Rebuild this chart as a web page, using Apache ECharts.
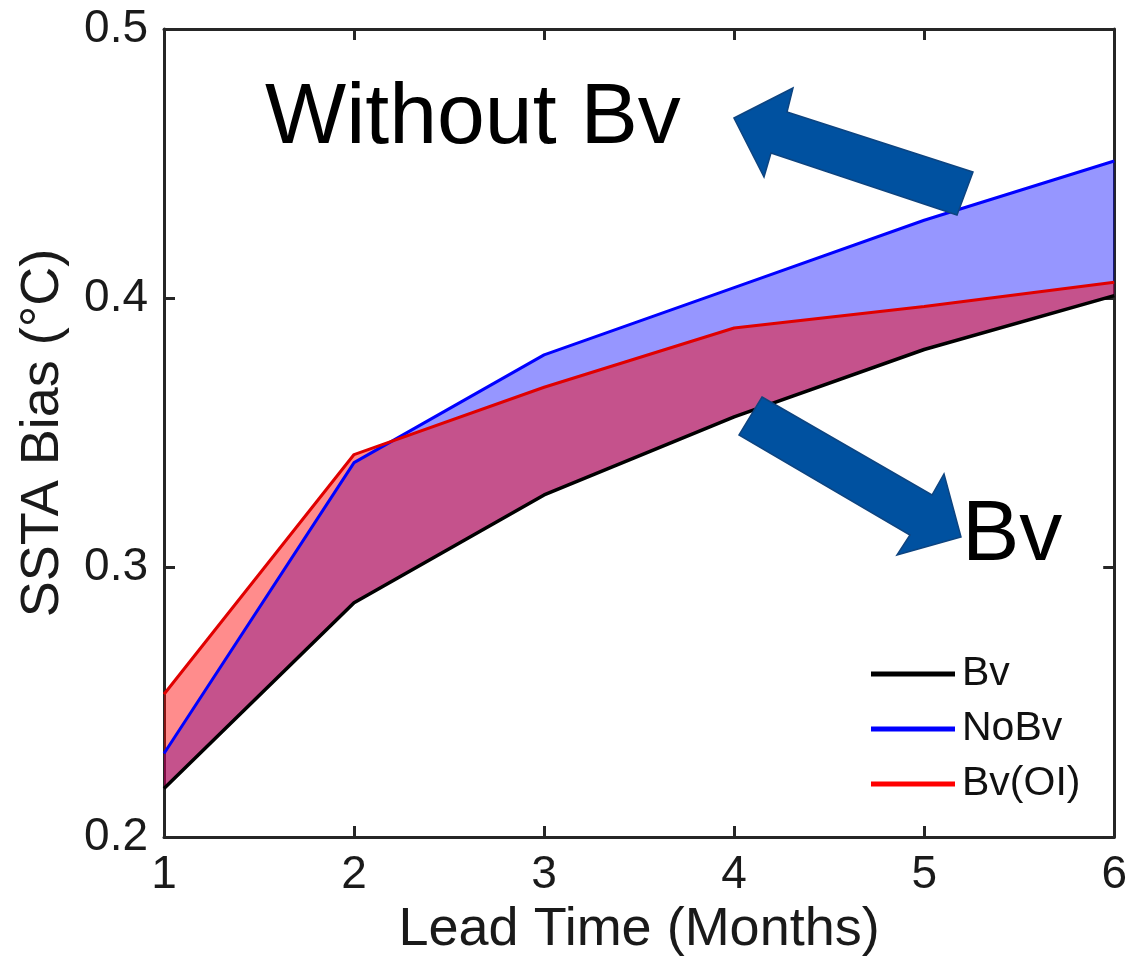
<!DOCTYPE html>
<html>
<head>
<meta charset="utf-8">
<script src="https://cdn.jsdelivr.net/npm/echarts@6/dist/echarts.min.js"></script>
<style>
html,body{margin:0;padding:0;background:#fff;}
#chart{width:1130px;height:974px;}
</style>
</head>
<body>
<div id="chart"></div>
<script>
// ---- data ----
var leadTime = [1, 2, 3, 4, 5, 6];
var bv   = [0.218, 0.287, 0.327, 0.356, 0.381, 0.401];
var noBv = [0.231, 0.339, 0.379, 0.404, 0.429, 0.451];
var bvOI = [0.253, 0.342, 0.367, 0.389, 0.397, 0.406];
var yTicks = [0.2, 0.3, 0.4, 0.5];
var xTicks = [1, 2, 3, 4, 5, 6];

var FONT = '"Liberation Sans", Arial, Helvetica, sans-serif';
var AX = '#262626';

function pairs(xs, ys) { return xs.map(function (x, i) { return [x, ys[i]]; }); }

// band polygon between an upper and a lower series, through the axis scales
function bandSeries(name, upper, lower, color) {
  return {
    name: name, type: 'custom', silent: true,
    data: [0],
    renderItem: function (params, api) {
      var pts = [];
      for (var i = 0; i < leadTime.length; i++) pts.push(api.coord([leadTime[i], upper[i]]));
      for (var j = leadTime.length - 1; j >= 0; j--) pts.push(api.coord([leadTime[j], lower[j]]));
      return { type: 'polygon', shape: { points: pts }, style: { fill: color, stroke: null } };
    }
  };
}

var chart = echarts.init(document.getElementById('chart'), null, { renderer: 'canvas' });

var axisCommon = {
  type: 'value',
  axisLine: { show: true, lineStyle: { color: AX, width: 3 } },
  axisTick: { show: true, inside: true, length: 11, lineStyle: { color: AX, width: 3 } },
  splitLine: { show: false }
};

var option = {
  backgroundColor: '#ffffff',
  animation: false,
  grid: { left: 164, top: 29, width: 953, height: 808, containLabel: false },
  xAxis: [
    Object.assign({}, axisCommon, {
      position: 'bottom', min: xTicks[0], max: xTicks[xTicks.length - 1], interval: 1,
      axisLabel: { show: true, color: '#1a1a1a', fontSize: 46, fontFamily: FONT, margin: 15 },
      name: 'Lead Time (Months)', nameLocation: 'middle', nameGap: 64,
      nameTextStyle: { color: '#1a1a1a', fontSize: 54, fontFamily: FONT }
    }),
    Object.assign({}, axisCommon, {
      position: 'top', min: xTicks[0], max: xTicks[xTicks.length - 1], interval: 1,
      axisLabel: { show: false }
    })
  ],
  yAxis: [
    Object.assign({}, axisCommon, {
      position: 'left', min: yTicks[0], max: yTicks[yTicks.length - 1], interval: 0.1,
      axisLabel: { show: true, color: '#1a1a1a', fontSize: 46, fontFamily: FONT, margin: 16,
        formatter: function (v) { return v.toFixed(1); } },
      name: 'SSTA Bias (°C)', nameLocation: 'middle', nameGap: 94, nameRotate: 90,
      nameTextStyle: { color: '#1a1a1a', fontSize: 54, fontFamily: FONT }
    }),
    Object.assign({}, axisCommon, {
      position: 'right', min: yTicks[0], max: yTicks[yTicks.length - 1], interval: 0.1,
      axisLabel: { show: false }
    })
  ],
  legend: {
    data: ['Bv', 'NoBv', 'Bv(OI)'],
    orient: 'vertical',
    left: 866, top: 648,
    icon: 'rect', itemWidth: 84, itemHeight: 5, itemGap: 13,
    textStyle: { color: '#111', fontSize: 41, fontFamily: FONT, lineHeight: 42, padding: [0, 0, 0, 2] },
    selectedMode: false
  },
  series: [
    bandSeries('blueBand', noBv, bv, 'rgba(0,0,255,0.41)'),
    { name: 'NoBv', type: 'line', data: pairs(leadTime, noBv), symbol: 'none',
      itemStyle: { color: '#0000ff' }, lineStyle: { color: '#0000ff', width: 3 } },
    bandSeries('redBand', bvOI, bv, 'rgba(255,0,0,0.45)'),
    { name: 'Bv(OI)', type: 'line', data: pairs(leadTime, bvOI), symbol: 'none',
      itemStyle: { color: '#ff0000' }, lineStyle: { color: '#e00000', width: 3 } },
    { name: 'Bv', type: 'line', data: pairs(leadTime, bv), symbol: 'none',
      itemStyle: { color: '#000000' }, lineStyle: { color: '#000000', width: 3.5 } }
  ],
  graphic: [
    { type: 'polygon', z: 100,
      shape: { points: [[734,118],[793,88],[787,112],[973,172],[957,215],[771,153],[764,177]] },
      style: { fill: '#0051a0', stroke: '#0d4480', lineWidth: 1.5 } },
    { type: 'polygon', z: 100,
      shape: { points: [[762,397],[932,495],[944,474],[961,537],[897,555],[910,535],[739,435]] },
      style: { fill: '#0051a0', stroke: '#0d4480', lineWidth: 1.5 } },
    { type: 'text', z: 100,
      style: { text: 'Without Bv', x: 265, y: 76, fill: '#000', font: '86px ' + FONT } },
    { type: 'text', z: 100,
      style: { text: 'Bv', x: 962, y: 493, fill: '#000', font: '86px ' + FONT } }
  ]
};

chart.setOption(option);
</script>
</body>
</html>
